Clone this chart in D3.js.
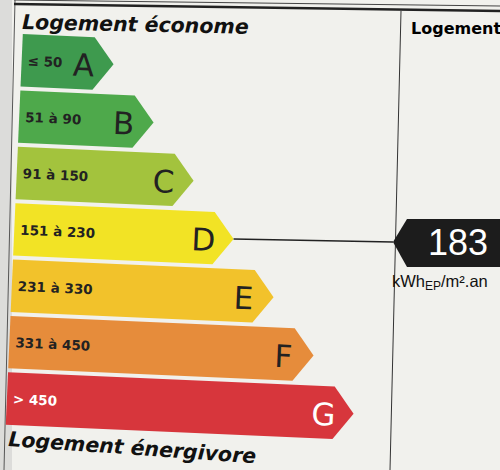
<html>
<head>
    <meta charset="utf-8">
    <title>DPE</title>
    <style>
        body { margin: 0; background: #f1f1ed; }
        .title { font-family: "DejaVu Sans", sans-serif; font-weight: bold; font-style: italic; fill: #111; }
        .range { font-family: "DejaVu Sans", sans-serif; font-weight: bold; font-size: 13.5px; }
        .letter { font-family: "DejaVu Sans", sans-serif; font-size: 31px; }
    </style>
</head>
<body>
    <svg width="500" height="470"></svg>
    <script src="https://d3js.org/d3.v7.min.js"></script>
    <script>
        // label classes, kWh ranges, upper bounds, colours
        var classes = ["A", "B", "C", "D", "E", "F", "G"];
        var ranges = ["\u2264 50", "51 \u00e0 90", "91 \u00e0 150", "151 \u00e0 230", "231 \u00e0 330", "331 \u00e0 450", "> 450"];
        var upper = [50, 90, 150, 230, 330, 450, Infinity];
        var colors = ["#3e9a4e", "#4ea94b", "#a3c33d", "#f2e325", "#f2c22b", "#e68c3b", "#d7363c"];
        var textColors = ["#222", "#222", "#222", "#222", "#222", "#222", "#fff"];
        var value = 183;
        var unit = "kWh";

        var svg = d3.select("svg"), width = +svg.attr("width"), height = +svg.attr("height");

        var y = d3.scaleBand().domain(classes).range([42, 433]).paddingInner(0.07);
        var xTip = d3.scaleLinear().domain([0, 6]).range([106, 361]);
        var left = 14, point = 20;

        // the label is photographed slightly tilted
        var angle = 2.5, cx = 200, cyRot = 240;
        function rot(px, py) {
            var a = angle * Math.PI / 180, dx = px - cx, dy = py - cyRot;
            return [cx + dx * Math.cos(a) - dy * Math.sin(a), cyRot + dx * Math.sin(a) + dy * Math.cos(a)];
        }

        // frame
        svg.append("rect").attr("x", 0).attr("y", 0).attr("width", width).attr("height", height).attr("fill", "#f1f1ed");
        svg.append("rect").attr("x", 0).attr("y", 0).attr("width", 12).attr("height", height).attr("fill", "#dcdcda");
        svg.append("line").attr("x1", 15).attr("y1", 0).attr("x2", 4).attr("y2", height)
            .attr("stroke", "#555").attr("stroke-width", 1);
        svg.append("line").attr("x1", 14).attr("y1", 4).attr("x2", width).attr("y2", 11)
            .attr("stroke", "#222").attr("stroke-width", 2.5);
        svg.append("line").attr("x1", 14).attr("y1", 0).attr("x2", width).attr("y2", 6)
            .attr("stroke", "#444").attr("stroke-width", 1);
        svg.append("line").attr("x1", 401).attr("y1", 11).attr("x2", 390).attr("y2", height)
            .attr("stroke", "#333").attr("stroke-width", 1);

        svg.append("text").attr("class", "title").attr("transform", "translate(22,29) rotate(1.2)")
            .style("font-size", "20.5px").text("Logement \u00e9conome");
        svg.append("text").attr("class", "title").attr("transform", "translate(8,446) rotate(4)")
            .style("font-size", "20.5px").text("Logement \u00e9nergivore");
        svg.append("text").attr("x", 411).attr("y", 34)
            .style("font-family", "DejaVu Sans, sans-serif").style("font-weight", "bold").style("font-size", "16px")
            .text("Logement");

        var bars = svg.append("g")
            .attr("transform", "rotate(" + angle + "," + cx + "," + cyRot + ")")
            .selectAll("g")
            .data(classes)
            .enter().append("g");

        bars.append("path")
            .attr("fill", function (d, i) { return colors[i]; })
            .attr("d", function (d, i) {
                var x1 = xTip(i), y0 = y(d), h = y.bandwidth();
                return "M" + left + "," + y0 + "L" + (x1 - point) + "," + y0 + "L" + x1 + "," + (y0 + h / 2) +
                    "L" + (x1 - point) + "," + (y0 + h) + "L" + left + "," + (y0 + h) + "Z";
            });

        bars.append("text")
            .attr("class", "range")
            .attr("x", left + 6)
            .attr("y", function (d) { return y(d) + y.bandwidth() / 2 + 5; })
            .attr("fill", function (d, i) { return textColors[i]; })
            .text(function (d, i) { return ranges[i]; });

        bars.append("text")
            .attr("class", "letter")
            .attr("text-anchor", "middle")
            .attr("x", function (d, i) { return xTip(i) - 30; })
            .attr("y", function (d) { return y(d) + y.bandwidth() / 2 + 13; })
            .attr("fill", function (d, i) { return textColors[i]; })
            .text(function (d) { return d; });

        // value marker
        var idx = upper.findIndex(function (u) { return value <= u; });
        var tip = rot(xTip(idx), y(classes[idx]) + y.bandwidth() / 2);
        var ax = 393, ay = tip[1] + 3;

        svg.append("line")
            .attr("x1", tip[0]).attr("y1", tip[1]).attr("x2", ax).attr("y2", ay)
            .attr("stroke", "#222").attr("stroke-width", 1.5);

        svg.append("path")
            .attr("fill", "#1c1c1c")
            .attr("d", "M" + ax + "," + ay + "L" + (ax + 14) + "," + (ay - 23) + "L" + width + "," + (ay - 23) +
                "L" + width + "," + (ay + 25) + "L" + (ax + 14) + "," + (ay + 25) + "Z");

        svg.append("text")
            .attr("x", 458).attr("y", ay + 13)
            .attr("text-anchor", "middle")
            .attr("fill", "#fff")
            .style("font-family", "Liberation Sans, Arial, sans-serif").style("font-size", "36px")
            .text(value);

        var u = svg.append("text")
            .attr("x", 392).attr("y", ay + 45)
            .attr("fill", "#111")
            .style("font-family", "Liberation Sans, Arial, sans-serif").style("font-size", "16.5px");
        u.append("tspan").text(unit);
        u.append("tspan").attr("dy", 3).style("font-size", "12px").text("EP");
        u.append("tspan").attr("dy", -3).text("/m\u00b2.an");
    </script>
</body>
</html>
